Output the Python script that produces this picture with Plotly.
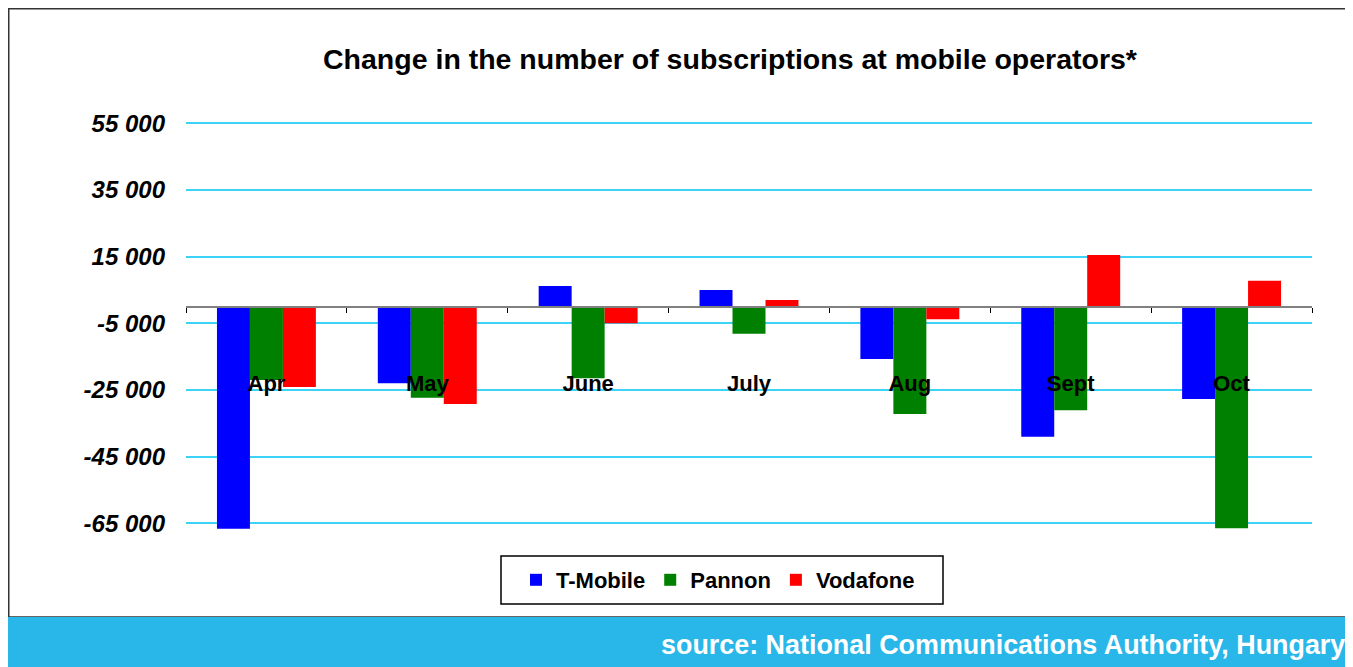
import plotly.graph_objects as go

months = ["Apr", "May", "June", "July", "Aug", "Sept", "Oct"]
t_mobile = [-66600, -23000, 6200, 5000, -15700, -39000, -27700]
pannon = [-22000, -27300, -21500, -8100, -32200, -31100, -66500]
vodafone = [-24100, -29200, -5000, 2000, -3800, 15500, 7800]
y_ticks = [55000, 35000, 15000, -5000, -25000, -45000, -65000]
y_tick_text = ["55 000", "35 000", "15 000", "-5 000", "-25 000", "-45 000", "-65 000"]
series = [("T-Mobile", t_mobile, "#0000FF"), ("Pannon", pannon, "#008000"), ("Vodafone", vodafone, "#FF0000")]

Y_MIN, Y_MAX = -70000, 65000
OFF = 8  # page body margin
W, H = 1353 - OFF, 667 - OFF
# plot area in page pixels: x 186..1312, y 90..540
L, R, T, B = 186 - OFF, 1353 - 1312, 90 - OFF, 667 - 540
PW, PH = W - L - R, H - T - B

def px(x):
    return (x - OFF - L) / PW

def py(y):
    return (H - B - (y - OFF)) / PH

FONT = "Liberation Sans, Arial, sans-serif"

fig = go.Figure()
for name, vals, col in series:
    fig.add_trace(go.Bar(x=months, y=vals, name=name, marker=dict(color=col, line=dict(width=0))))

fig.update_layout(
    width=W, height=H,
    margin=dict(l=L, r=R, t=T, b=B),
    paper_bgcolor="white", plot_bgcolor="white",
    barmode="group", bargap=0.385, bargroupgap=0,
    font=dict(family=FONT, color="black"),
    title=dict(text="Change in the number of subscriptions at mobile operators*",
               x=px(730), xref="paper", xanchor="center",
               y=1 - (59 - OFF) / H, yref="container", yanchor="middle",
               font=dict(size=28.5, weight="bold", family=FONT, color="black")),
    showlegend=True,
    legend=dict(orientation="h", x=px(516), xanchor="left", y=py(580), yanchor="middle",
                font=dict(size=22, weight="bold", family=FONT), bgcolor="rgba(0,0,0,0)",
                borderwidth=0, traceorder="normal"),
    xaxis=dict(type="category", anchor="free", position=(0 - Y_MIN) / (Y_MAX - Y_MIN),
               showline=True, linecolor="#808080", linewidth=2,
               ticks="outside", ticklen=5, tickcolor="black", tickwidth=1,
               tickson="boundaries", showgrid=False, zeroline=False,
               ticklabelstandoff=57,
               tickfont=dict(size=22, weight="bold", family=FONT, color="black")),
    yaxis=dict(range=[Y_MIN, Y_MAX], tickvals=y_ticks, ticktext=y_tick_text,
               showgrid=True, gridcolor="#3DD3F7", gridwidth=1.5,
               zeroline=False, showline=False, ticks="",
               ticklabelstandoff=20,
               tickfont=dict(size=24, weight="bold", style="italic", family=FONT, color="black")),
    shapes=[
        # outer frame
        dict(type="rect", xref="paper", yref="paper", x0=px(OFF + 0.75), x1=px(1380), y0=py(617), y1=py(OFF + 0.75),
             line=dict(color="#333333", width=1.5), fillcolor="rgba(0,0,0,0)", layer="below"),
        # legend box
        dict(type="rect", xref="paper", yref="paper", x0=px(501), x1=px(943), y0=py(604), y1=py(556),
             line=dict(color="black", width=1.5), fillcolor="rgba(0,0,0,0)"),
        # source banner
        dict(type="rect", xref="paper", yref="paper", x0=px(OFF), x1=px(1380), y0=py(690), y1=py(617),
             line=dict(width=0), fillcolor="#29B6E9"),
    ],
    annotations=[
        dict(text="source: National Communications Authority, Hungary", xref="paper", yref="paper",
             x=px(1347), xanchor="right", y=py(645), yanchor="middle", showarrow=False,
             font=dict(size=26.9, weight="bold", family=FONT, color="white")),
    ],
)

fig.write_html("out.html")
